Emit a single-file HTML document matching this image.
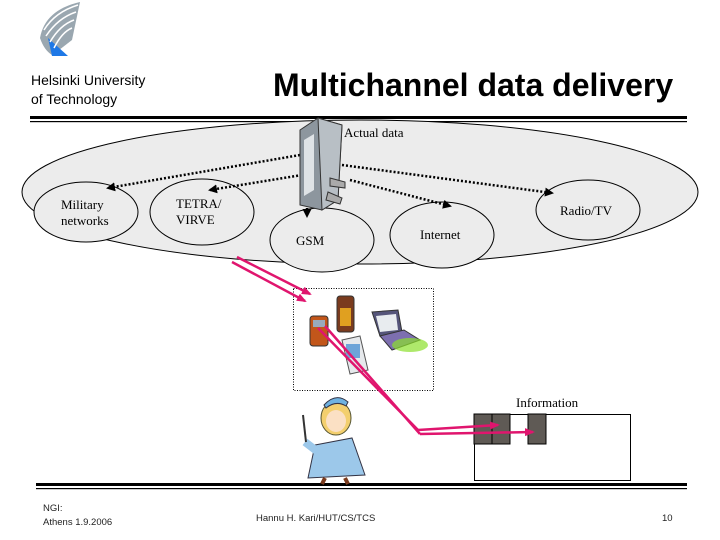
<!DOCTYPE html>
<html><head><meta charset="utf-8"><style>
body{margin:0;width:720px;height:540px;background:#fff;overflow:hidden;position:relative;font-family:"Liberation Sans",sans-serif}
.t{position:absolute;white-space:nowrap}
.s{font-family:"Liberation Serif",serif;font-size:13px}
</style></head><body>
<svg width="720" height="540" style="position:absolute;left:0;top:0">
<defs>
<marker id="a" markerUnits="userSpaceOnUse" markerWidth="9" markerHeight="9" refX="7" refY="4.5" orient="auto"><path d="M0,0L9,4.5L0,9z" fill="#000"/></marker>
<marker id="p" markerUnits="userSpaceOnUse" markerWidth="10" markerHeight="8" refX="8" refY="4" orient="auto"><path d="M0,0L10,4L0,8z" fill="#e0156e"/></marker>
</defs>
<g>
<path d="M40,38 Q45,10 80,2 L72,40 Q62,48 52,55 Q44,50 40,38z" fill="#9aa7b0"/>
<path d="M48,38 L68,56 L52,56z" fill="#1e78e6"/>
<path d="M44,30 Q55,12 78,5 M46,36 Q58,18 76,12 M50,42 Q60,25 74,20 M54,48 Q62,32 72,28" stroke="#fff" stroke-width="1.5" fill="none"/>
</g>
<rect x="30" y="116" width="657" height="3" fill="#000"/>
<rect x="30" y="121" width="657" height="1.2" fill="#000"/>
<rect x="36" y="483" width="651" height="3" fill="#000"/>
<rect x="36" y="488" width="651" height="1.2" fill="#000"/>
<ellipse cx="360" cy="192" rx="338" ry="72" fill="#ececec" stroke="#000"/>
<g fill="#ececec" stroke="#000">
<ellipse cx="86" cy="212" rx="52" ry="30"/>
<ellipse cx="202" cy="212" rx="52" ry="33"/>
<ellipse cx="322" cy="240" rx="52" ry="32"/>
<ellipse cx="442" cy="235" rx="52" ry="33"/>
<ellipse cx="588" cy="210" rx="52" ry="30"/>
</g>
<g stroke="#000" stroke-width="2.5" stroke-dasharray="2,2" fill="none" marker-end="url(#a)">
<line x1="300" y1="155" x2="108" y2="188"/>
<line x1="302" y1="175" x2="210" y2="190"/>
<line x1="307" y1="200" x2="307" y2="216"/>
<line x1="350" y1="180" x2="450" y2="206"/>
<line x1="342" y1="165" x2="552" y2="193"/>
</g>
<g>
<path d="M300,130 L318,118 L342,125 L338,200 L322,210 L300,205z" fill="#8d969e" stroke="#333"/>
<path d="M318,118 L342,125 L338,200 L322,210z" fill="#b8bfc5" stroke="#333"/>
<path d="M304,140 L314,134 L314,190 L304,196z" fill="#dfe3e6"/>
<path d="M330,178 L345,182 L345,188 L330,186z M328,192 L342,198 L340,204 L326,200z" fill="#aaa" stroke="#333"/>
</g>
<rect x="293.5" y="288.5" width="140" height="102" fill="none" stroke="#000" stroke-dasharray="1,1.5"/>
<rect x="310" y="316" width="18" height="30" rx="3" fill="#c2561a" stroke="#333"/>
<rect x="313" y="320" width="12" height="7" fill="#9ab"/>
<rect x="337" y="296" width="17" height="36" rx="3" fill="#7a3b1e" stroke="#333"/>
<rect x="340" y="308" width="11" height="18" fill="#e0a020"/>
<path d="M372,312 L398,310 L402,332 L380,336z" fill="#55557a" stroke="#333"/>
<path d="M376,316 L396,314 L398,330 L380,332z" fill="#e8ecef"/>
<path d="M380,336 L404,330 L420,340 L392,350z" fill="#7d6fb0" stroke="#333"/>
<ellipse cx="410" cy="345" rx="18" ry="7" fill="#8be02c" opacity=".7"/>
<path d="M342,340 L360,336 L368,370 L350,374z" fill="#e6e9ec" stroke="#555"/>
<rect x="346" y="344" width="14" height="14" fill="#6da4d8"/>
<g>
<path d="M315,445 L352,438 L365,475 L308,478z" fill="#9cc8ea" stroke="#334"/>
<ellipse cx="336" cy="418" rx="15" ry="17" fill="#f3cf6e" stroke="#553"/>
<ellipse cx="336" cy="421" rx="10" ry="11" fill="#fbe0c4"/>
<path d="M324,405 Q336,392 348,402 L346,406 Q336,400 326,408z" fill="#6fb2e0" stroke="#334"/>
<path d="M318,452 L305,442" stroke="#9cc8ea" stroke-width="8"/>
<line x1="303" y1="415" x2="306" y2="442" stroke="#333" stroke-width="2"/>
<path d="M325,478 L322,484 M345,478 L348,484" stroke="#7a3b1e" stroke-width="4"/>
</g>
<g stroke="#e0156e" stroke-width="2.5" fill="none">
<line x1="232" y1="262" x2="305" y2="301" marker-end="url(#p)"/>
<line x1="237" y1="257" x2="310" y2="294" marker-end="url(#p)"/>
<polyline points="318,328 418,430"/>
<polyline points="325,326 420,434"/>
</g>
<rect x="474.5" y="414.5" width="156" height="66" fill="#fff" stroke="#000"/>
<rect x="474" y="414" width="18" height="30" fill="#5f5a55" stroke="#000"/>
<rect x="492" y="414" width="18" height="30" fill="#5f5a55" stroke="#000"/>
<rect x="528" y="414" width="18" height="30" fill="#5f5a55" stroke="#000"/>
<g stroke="#e0156e" stroke-width="2.5" fill="none" marker-end="url(#p)">
<line x1="418" y1="430" x2="498" y2="425"/>
<line x1="420" y1="434" x2="533" y2="432"/>
</g>
</svg>
<div class="t" style="left:31px;top:71px;font-size:14px;line-height:19px">Helsinki University<br>of Technology</div>
<div class="t" style="left:273px;top:67px;font-size:32px;font-weight:bold">Multichannel data delivery</div>
<div class="t s" style="left:344px;top:125px">Actual data</div>
<div class="t s" style="left:61px;top:197px;line-height:16px">Military<br>networks</div>
<div class="t s" style="left:176px;top:196px;line-height:16px">TETRA/<br>VIRVE</div>
<div class="t s" style="left:296px;top:233px">GSM</div>
<div class="t s" style="left:420px;top:227px">Internet</div>
<div class="t s" style="left:560px;top:203px">Radio/TV</div>
<div class="t s" style="left:516px;top:395px">Information</div>
<div class="t" style="left:43px;top:502px;font-size:9.5px;line-height:14px;color:#222">NGI:<br>Athens 1.9.2006</div>
<div class="t" style="left:256px;top:513px;font-size:9.5px;color:#222">Hannu H. Kari/HUT/CS/TCS</div>
<div class="t" style="left:662px;top:513px;font-size:9.5px;color:#222">10</div>
</body></html>
